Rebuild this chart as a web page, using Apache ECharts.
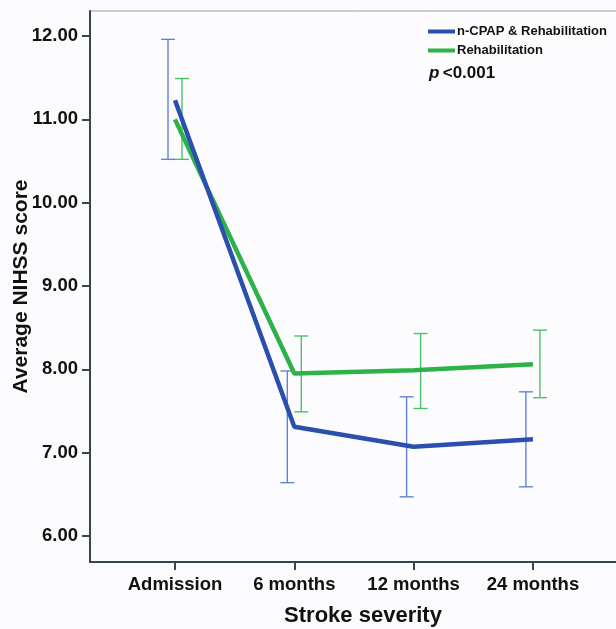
<!DOCTYPE html>
<html>
<head>
<meta charset="utf-8">
<style>html,body{margin:0;padding:0;background:#fbfbfd;}#c{width:616px;height:629px;}</style>
<script src="https://cdn.jsdelivr.net/npm/echarts@6/dist/echarts.min.js"></script>
</head>
<body>
<div id="c"></div>
<script>
var categories = ['Admission', '6 months', '12 months', '24 months'];
var yTicks = [6, 7, 8, 9, 10, 11, 12];
var cpapMean = [11.23, 7.31, 7.07, 7.16];
var cpapLow  = [10.52, 6.64, 6.47, 6.59];
var cpapHigh = [11.96, 7.98, 7.67, 7.73];
var rehabMean = [11.00, 7.95, 7.99, 8.06];
var rehabLow  = [10.52, 7.49, 7.53, 7.66];
var rehabHigh = [11.49, 8.40, 8.43, 8.47];

var xPos = categories.map(function (c, i) { return i + 1; });
function pairs(vals) { return vals.map(function (v, i) { return [xPos[i], v]; }); }
function bars(lo, hi) { return lo.map(function (v, i) { return [xPos[i], v, hi[i]]; }); }

function errRender(offset, color) {
  return function (params, api) {
    var x = api.value(0), lo = api.value(1), hi = api.value(2);
    var p1 = api.coord([x, lo]), p2 = api.coord([x, hi]);
    var cx = p1[0] + offset, cap = 7;
    var st = { stroke: color, lineWidth: 1.4 };
    return { type: 'group', children: [
      { type: 'line', shape: { x1: cx, y1: p1[1], x2: cx, y2: p2[1] }, style: st },
      { type: 'line', shape: { x1: cx - cap, y1: p1[1], x2: cx + cap, y2: p1[1] }, style: st },
      { type: 'line', shape: { x1: cx - cap, y1: p2[1], x2: cx + cap, y2: p2[1] }, style: st }
    ]};
  };
}

var font = 'Liberation Sans, Arial, sans-serif';
var axisCol = '#34474f';
var chart = echarts.init(document.getElementById('c'));
chart.setOption({
  backgroundColor: '#fbfbfd',
  animation: false,
  grid: { left: 90, top: 11, bottom: 67, right: -20, containLabel: false, outerBoundsMode: 'none',
    show: true, borderColor: '#9a9a9a', borderWidth: 1, backgroundColor: '#fcfcfe' },
  legend: {
    orient: 'vertical', left: 423, top: 20, itemWidth: 27, itemHeight: 4, itemGap: 6,
    icon: 'rect',
    textStyle: { fontFamily: font, fontWeight: 'bold', fontSize: 13, color: '#111', padding: [0, 0, 0, -3] },
    data: ['n-CPAP & Rehabilitation', 'Rehabilitation']
  },
  graphic: [{
    type: 'text', left: 429, top: 65,
    style: { rich: { i: { fontStyle: 'italic', fontWeight: 'bold', fontSize: 17, fontFamily: font, fill: '#111' }, n: { fontWeight: 'bold', fontSize: 17, fontFamily: font, fill: '#111' } }, text: '{i|p} {n|<0.001}' }
  }],
  xAxis: {
    type: 'value', min: 0.2875, max: 4.864,
    name: 'Stroke severity', nameLocation: 'middle', nameGap: 43,
    nameTextStyle: { fontFamily: font, fontWeight: 'bold', fontSize: 22, color: '#111' },
    axisLine: { lineStyle: { color: axisCol, width: 2 } },
    axisTick: { show: true, length: 8, lineStyle: { color: axisCol, width: 2 }, customValues: xPos },
    axisLabel: { customValues: xPos, margin: 13, fontFamily: font, fontWeight: 'bold', fontSize: 18.5, color: '#111',
      formatter: function (v) { return categories[Math.round(v) - 1] || ''; } },
    splitLine: { show: false }
  },
  yAxis: {
    type: 'value', min: 5.688, max: 12.30,
    name: 'Average NIHSS score', nameLocation: 'middle', nameGap: 58, nameRotate: 90, nameMoveOverlap: false,
    nameTextStyle: { fontFamily: font, fontWeight: 'bold', fontSize: 21, color: '#111' },
    axisLine: { show: true, lineStyle: { color: axisCol, width: 2 } },
    axisTick: { show: true, length: 8, lineStyle: { color: axisCol, width: 2 }, customValues: yTicks },
    axisLabel: { customValues: yTicks, margin: 12, fontFamily: font, fontWeight: 'bold', fontSize: 18.5, color: '#111',
      formatter: function (v) { return v.toFixed(2); } },
    splitLine: { show: false }
  },
  series: [
    { name: 'n-CPAP & Rehabilitation', type: 'line', data: pairs(cpapMean), symbol: 'none', z: 4,
      lineStyle: { color: '#2a4fae', width: 4.5 }, itemStyle: { color: '#2a4fae' } },
    { name: 'Rehabilitation', type: 'line', data: pairs(rehabMean), symbol: 'none', z: 3,
      lineStyle: { color: '#2db24a', width: 4.5 }, itemStyle: { color: '#2db24a' } },
    { type: 'custom', data: bars(cpapLow, cpapHigh), renderItem: errRender(-7, '#6283d2'), z: 2, silent: true },
    { type: 'custom', data: bars(rehabLow, rehabHigh), renderItem: errRender(7, '#4cc267'), z: 2, silent: true }
  ]
});
</script>
</body>
</html>
